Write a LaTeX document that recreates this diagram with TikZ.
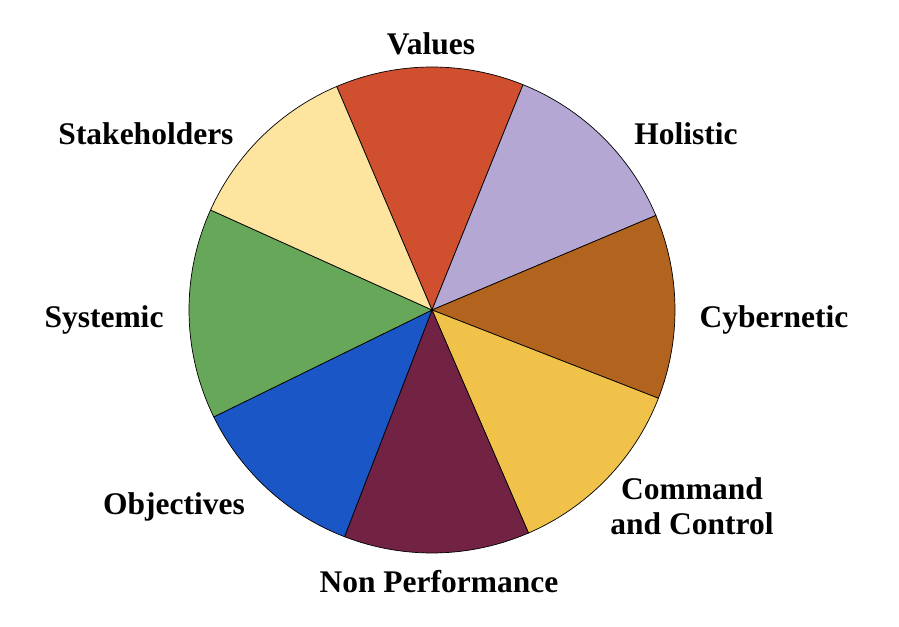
\documentclass[tikz,border=0pt]{standalone}
\usepackage{fontspec}
\setmainfont{Liberation Serif}
\definecolor{values}{HTML}{CF4F2F}
\definecolor{holistic}{HTML}{B4A7D4}
\definecolor{cybernetic}{HTML}{B2631D}
\definecolor{command}{HTML}{F0C24A}
\definecolor{nonperf}{HTML}{722344}
\definecolor{objectives}{HTML}{1A56C6}
\definecolor{systemic}{HTML}{67A759}
\definecolor{stake}{HTML}{FDE49F}

\begin{document}
\begin{tikzpicture}[x=0.025cm,y=0.025cm,
    slice/.style={draw=black,line width=0.5pt},
    label/.style={font=\bfseries\fontsize{22.4}{25}\selectfont,align=center}]
\useasboundingbox (0,0) rectangle (899,626);
\coordinate (c) at (432,316);

\filldraw[slice,fill=values]     (c) -- ++( 68  :243) arc [start angle= 68  , end angle= 113.1, radius=243] -- cycle;
\filldraw[slice,fill=holistic]   (c) -- ++( 22.9:243) arc [start angle= 22.9, end angle=  68  , radius=243] -- cycle;
\filldraw[slice,fill=cybernetic] (c) -- ++(-21.3:243) arc [start angle=-21.3, end angle=  22.9, radius=243] -- cycle;
\filldraw[slice,fill=command]    (c) -- ++(-66.6:243) arc [start angle=-66.6, end angle= -21.3, radius=243] -- cycle;
\filldraw[slice,fill=nonperf]    (c) -- ++(-111.1:243) arc [start angle=-111.1, end angle=-66.6, radius=243] -- cycle;
\filldraw[slice,fill=objectives] (c) -- ++(-153.9:243) arc [start angle=-153.9, end angle=-111.1, radius=243] -- cycle;
\filldraw[slice,fill=systemic]   (c) -- ++(155.7:243) arc [start angle=155.7, end angle= 206.1, radius=243] -- cycle;
\filldraw[slice,fill=stake]      (c) -- ++(113.1:243) arc [start angle=113.1, end angle= 155.7, radius=243] -- cycle;

\path
    (431,582) node [label] (values)     {Values}
    (686,492) node [label] (holistic)   {Holistic}
    (774,306) node [label] (cybernetic) {Cybernetic}
    (692,120) node [label] (command)    {Command\\and Control}
    (439, 44) node [label] (nonperf)    {Non Performance}
    (174,119) node [label] (objectives) {Objectives}
    (104,306) node [label] (systemic)   {Systemic}
    (146,492) node [label] (stake)      {Stakeholders};
\end{tikzpicture}
\end{document}
